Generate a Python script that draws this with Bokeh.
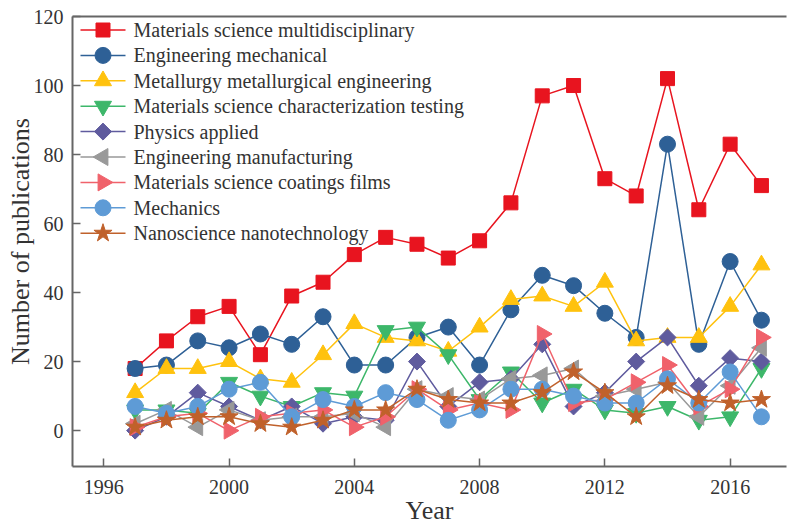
import math
from bokeh.plotting import figure
from bokeh.models import Range1d, LinearAxis, FixedTicker
from bokeh.core.properties import value
from bokeh.embed import file_html
from bokeh.resources import INLINE

years = list(range(1997, 2018))
ms_multi = [18, 26, 33, 36, 22, 39, 43, 51, 56, 54, 50, 55, 66, 97, 100, 73, 68, 102, 64, 83, 71]
eng_mech = [18, 19, 26, 24, 28, 25, 33, 19, 19, 27, 30, 19, 35, 45, 42, 34, 27, 83, 25, 49, 32]
metallurgy = [11, 18, 18, 20, 15, 14, 22, 31, 27, 26, 23, 30, 38, 39, 36, 43, 26, 27, 27, 36, 48]
charact = [6, 6, 5, 14, 10, 7, 11, 10, 29, 30, 22, 9, 17, 8, 12, 6, 5, 7, 3, 4, 18]
physics = [0, 4, 11, 7, 3, 7, 2, 4, 3, 20, 7, 14, 15, 25, 7, 11, 20, 27, 13, 21, 20]
eng_manuf = [2, 6, 1, 6, 3, 4, 4, 5, 1, 12, 10, 9, 15, 16, 18, 10, 12, 14, 4, 13, 24]
coatings = [1, 4, 5, 0, 4, 5, 6, 1, 4, 12, 6, 8, 6, 28, 8, 9, 14, 19, 7, 12, 27]
mechanics = [7, 5, 7, 12, 14, 4, 9, 7, 11, 9, 3, 6, 12, 12, 10, 8, 8, 15, 8, 17, 4]
nano = [1, 3, 4, 4, 2, 1, 3, 6, 6, 12, 9, 8, 8, 11, 17, 11, 4, 13, 9, 8, 9]

labels = [
    "Materials science multidisciplinary",
    "Engineering mechanical",
    "Metallurgy metallurgical engineering",
    "Materials science characterization testing",
    "Physics applied",
    "Engineering manufacturing",
    "Materials science coatings films",
    "Mechanics",
    "Nanoscience nanotechnology",
]
series = [ms_multi, eng_mech, metallurgy, charact, physics, eng_manuf, coatings, mechanics, nano]
colors = ["#E8141F", "#2E6096", "#FFC20E", "#3DB76A", "#5F5B9E", "#999999", "#F0626B", "#5E9BD6", "#C0612B"]
markers = [
    ("square", 14, 0.0),
    ("circle", 16, 0.0),
    ("triangle", 17, 0.0),
    ("inverted_triangle", 17, 0.0),
    ("square", 12, math.pi / 4),
    ("triangle", 17, math.pi / 2),
    ("triangle", 17, -math.pi / 2),
    ("circle", 16, 0.0),
    ("star", 19, 0.0),
]
x_ticks = [1996, 2000, 2004, 2008, 2012, 2016]
y_ticks = [0, 20, 40, 60, 80, 100, 120]

FONT = "Liberation Serif"
TXT = "#333333"
AX = "#666666"
FW, FH = 714, 450

p = figure(frame_width=FW, frame_height=FH, output_backend="svg", toolbar_location=None,
           x_range=Range1d(1995, 2017.8), y_range=Range1d(-10.4, 120),
           min_border_left=72, min_border_right=2, min_border_top=16, min_border_bottom=10)
p.outline_line_color = None
p.grid.visible = False
p.extra_x_ranges = {"lx": Range1d(0, FW)}
p.extra_y_ranges = {"ly": Range1d(0, FH)}

for ax in (p.xaxis[0], p.yaxis[0]):
    ax.major_label_text_font = FONT
    ax.major_label_text_font_size = "20px"
    ax.major_label_text_color = TXT
    ax.axis_label_text_font = FONT
    ax.axis_label_text_font_size = "26px"
    ax.axis_label_text_font_style = "normal"
    ax.axis_label_text_color = TXT
    ax.axis_line_color = AX
    ax.axis_line_width = 2
    ax.major_tick_line_color = AX
    ax.major_tick_line_width = 1.5
    ax.major_tick_in = 8
    ax.major_tick_out = 0
    ax.minor_tick_line_color = None
p.xaxis[0].ticker = FixedTicker(ticks=x_ticks)
p.yaxis[0].ticker = FixedTicker(ticks=y_ticks)
p.xaxis[0].axis_label = "Year"
p.yaxis[0].axis_label = "Number of publications"
p.xaxis[0].major_label_standoff = 13
p.yaxis[0].major_label_standoff = 9
p.xaxis[0].axis_label_standoff = -1
p.yaxis[0].axis_label_standoff = -4

top = LinearAxis(major_tick_line_color=None, minor_tick_line_color=None,
                 major_label_text_font_size="0px", axis_line_color=AX, axis_line_width=2)
top.ticker = FixedTicker(ticks=[])
p.add_layout(top, "above")

for lab, ys, col, (mk, sz, ang) in zip(labels, series, colors, markers):
    p.line(years, ys, line_color=col, line_width=1.5)
    p.scatter(years, ys, marker=mk, size=sz, angle=ang, fill_color=col, line_color=col, line_width=1)

# legend drawn in frame-pixel coordinates (extra ranges)
row0, pitch = 13.5, 25.4
for i, (lab, col, (mk, sz, ang)) in enumerate(zip(labels, colors, markers)):
    yy = FH - row0 - i * pitch
    p.line([8, 53], [yy, yy], line_color=col, line_width=1.5, x_range_name="lx", y_range_name="ly")
    p.scatter([30.5], [yy], marker=mk, size=sz, angle=ang, fill_color=col, line_color=col,
              x_range_name="lx", y_range_name="ly")
    p.text([61], [yy], text=[lab], text_font=value(FONT), text_font_size="20px", text_color=TXT,
           text_baseline="middle", text_align="left", x_range_name="lx", y_range_name="ly")

open("out.html", "w").write(file_html(p, INLINE))
